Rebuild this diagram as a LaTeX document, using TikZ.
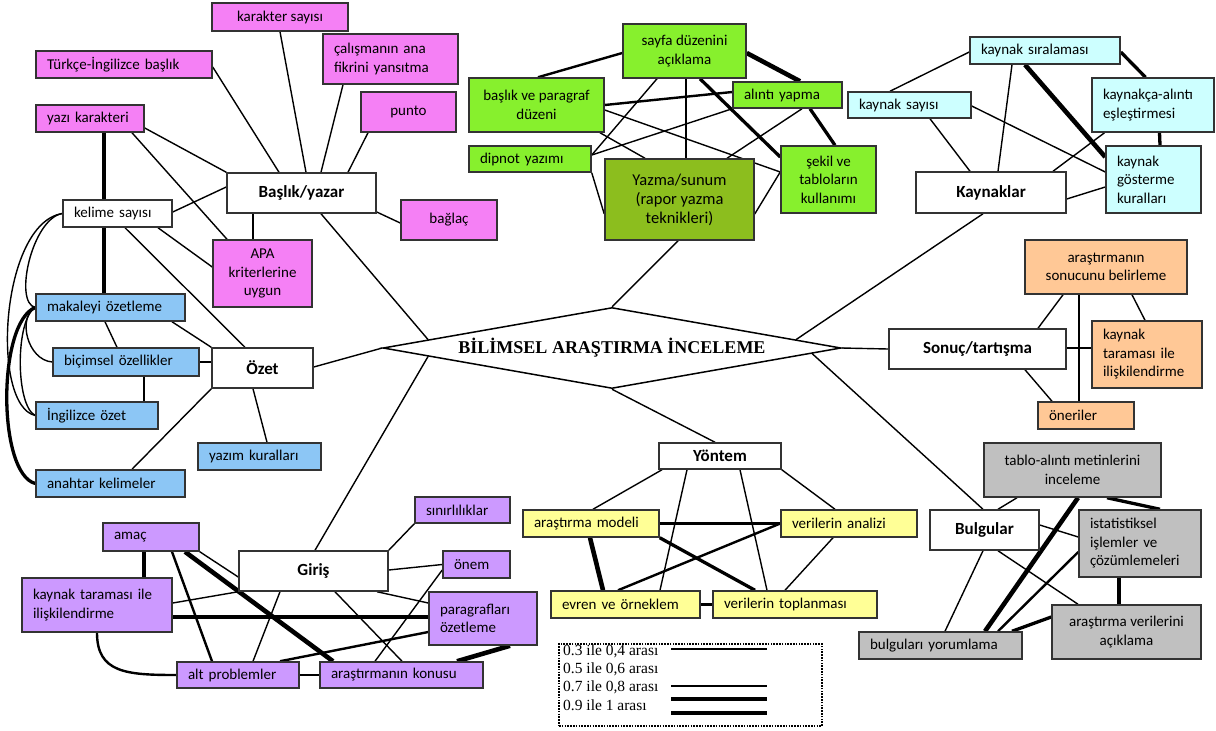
\documentclass[tikz,border=0pt]{standalone}
\usepackage{fontspec}
\setmainfont{Carlito}
\newfontfamily\tms{Liberation Serif}
\usetikzlibrary{shapes.geometric,calc,backgrounds}
\definecolor{cpink}{RGB}{245,128,245}
\definecolor{cgreen}{RGB}{135,240,45}
\definecolor{cdgreen}{RGB}{140,190,30}
\definecolor{ccyan}{RGB}{205,255,255}
\definecolor{cblue}{RGB}{140,198,245}
\definecolor{corange}{RGB}{255,200,150}
\definecolor{cyellow}{RGB}{255,255,150}
\definecolor{cgray}{RGB}{192,192,192}
\definecolor{cpurple}{RGB}{204,153,255}
\tikzset{
  box/.style={draw=black!80, line width=1.5pt, inner sep=0pt, font=\fontsize{15}{18.5}\selectfont},
  lft/.style={text width=\btw pt, align=left, inner xsep=11pt},
  ctr/.style={align=center},
  cat/.style={fill=white, font=\fontsize{17}{20}\selectfont\bfseries},
  fpink/.style={fill=cpink}, fgreen/.style={fill=cgreen}, fdgreen/.style={fill=cdgreen},
  fcyan/.style={fill=ccyan}, fblue/.style={fill=cblue}, forange/.style={fill=corange},
  fyellow/.style={fill=cyellow}, fgray/.style={fill=cgray}, fpurple/.style={fill=cpurple},
  w1/.style={line width=1.4pt}, w2/.style={line width=2.4pt},
  w3/.style={line width=3.3pt}, w4/.style={line width=4.6pt},
  lgt/.style={font=\tms\fontsize{15.5}{18}\selectfont, inner sep=0pt, anchor=west}
}
\newcommand\bx[7]{%
  \pgfmathsetmacro\bw{#4-#2}%
  \pgfmathsetmacro\bh{#5-#3}%
  \pgfmathsetmacro\btw{#4-#2-22}%
  \pgfmathsetmacro\bcx{(#2+#4)/2}%
  \pgfmathsetmacro\bcy{(#3+#5)/2}%
  \node[box,minimum width=\bw pt,minimum height=\bh pt,#6] (#1) at (\bcx,\bcy) {#7};}
\begin{document}
\begin{tikzpicture}[x=1pt,y=-1pt]
\useasboundingbox (0,0) rectangle (1216,731);
% ---- nodes
\node[draw, line width=1.5pt, shape=diamond, aspect=5.654, minimum width=458pt, minimum height=81pt, inner sep=0pt, fill=white, font=\tms\bfseries\fontsize{18}{20}\selectfont] (D) at (612,348) {BİLİMSEL ARAŞTIRMA İNCELEME};

\bx{kar}{212}{3}{348}{31}{fpink}{karakter sayısı}
\bx{tr}{36}{51}{212}{78}{fpink,lft}{Türkçe-İngilizce başlık}
\bx{cal}{323}{34}{458}{84}{fpink,lft}{çalışmanın ana\\fikrini yansıtma}
\bx{punto}{361}{92}{456}{132}{fpink}{punto}
\bx{yazi}{36}{105}{144}{132}{fpink,lft}{yazı karakteri}
\bx{bas}{227}{173}{376}{213}{cat}{Başlık/yazar}
\bx{kel}{63}{200}{172}{227}{fill=white,lft}{kelime sayısı}
\bx{bag}{401}{200}{497}{240}{fpink}{bağlaç}
\bx{apa}{213}{240}{312}{307}{fpink,ctr}{APA\\kriterlerine\\uygun}
\bx{mak}{36}{294}{185}{321}{fblue,lft}{makaleyi özetleme}
\bx{bic}{53}{348}{199}{376}{fblue,lft}{biçimsel özellikler}
\bx{ozet}{212}{348}{313}{388}{cat}{Özet}
\bx{ing}{36}{402}{158}{429}{fblue,lft}{İngilizce özet}
\bx{yaz}{198}{443}{321}{470}{fblue,lft}{yazım kuralları}
\bx{anh}{36}{470}{185}{497}{fblue,lft}{anahtar kelimeler}

\bx{sayfa}{623}{24}{746}{78}{fgreen,ctr}{sayfa düzenini\\açıklama}
\bx{bpd}{469}{78}{604}{132}{fgreen,ctr}{başlık ve paragraf\\düzeni}
\bx{ali}{733}{82}{842}{108}{fgreen,lft}{alıntı yapma}
\bx{dip}{469}{146}{591}{172}{fgreen,lft}{dipnot yazımı}
\bx{yzm}{605}{159}{754}{240}{fdgreen,ctr,font=\fontsize{16.5}{19}\selectfont}{Yazma/sunum\\(rapor yazma\\teknikleri)}
\bx{sek}{781}{146}{876}{213}{fgreen,ctr}{şekil ve\\tabloların\\kullanımı}

\bx{ksira}{970}{37}{1120}{64}{fcyan,lft}{kaynak sıralaması}
\bx{ksay}{848}{92}{971}{118}{fcyan,lft}{kaynak sayısı}
\bx{kali}{1092}{78}{1214}{132}{fcyan,lft}{kaynakça-alıntı\\eşleştirmesi}
\bx{kay}{916}{172}{1066}{213}{cat}{Kaynaklar}
\bx{kgos}{1106}{146}{1201}{213}{fcyan,lft}{kaynak\\gösterme\\kuralları}

\bx{asb}{1025}{240}{1187}{294}{forange,ctr}{araştırmanın\\sonucunu belirleme}
\bx{son}{889}{329}{1066}{369}{cat}{Sonuç/tartışma}
\bx{ktio}{1092}{321}{1202}{388}{forange,lft}{kaynak\\taraması ile\\ilişkilendirme}
\bx{one}{1038}{402}{1134}{429}{forange,lft}{öneriler}

\bx{tab}{984}{443}{1161}{497}{fgray,ctr}{tablo-alıntı metinlerini\\inceleme}
\bx{bul}{930}{510}{1039}{550}{cat}{Bulgular}
\bx{ist}{1079}{510}{1201}{577}{fgray,lft}{istatistiksel\\işlemler ve\\çözümlemeleri}
\bx{avr}{1052}{605}{1201}{659}{fgray,ctr}{araştırma verilerini\\açıklama}
\bx{byo}{859}{632}{1022}{659}{fgray,lft}{bulguları yorumlama}

\bx{yon}{659}{443}{781}{469}{cat}{Yöntem}
\bx{amod}{523}{510}{659}{537}{fyellow,lft}{araştırma modeli}
\bx{van}{781}{510}{917}{537}{fyellow,lft}{verilerin analizi}
\bx{evr}{551}{591}{700}{618}{fyellow,lft}{evren ve örneklem}
\bx{vtop}{713}{591}{877}{618}{fyellow,lft}{verilerin toplanması}

\bx{sin}{415}{497}{510}{523}{fpurple,lft}{sınırlılıklar}
\bx{amac}{103}{523}{199}{551}{fpurple,lft}{amaç}
\bx{gir}{239}{551}{388}{591}{cat}{Giriş}
\bx{onem}{443}{551}{510}{578}{fpurple,lft}{önem}
\bx{ktp}{22}{578}{172}{632}{fpurple,lft}{kaynak taraması ile\\ilişkilendirme}
\bx{par}{429}{592}{537}{645}{fpurple,lft}{paragrafları\\özetleme}
\bx{alt}{177}{662}{299}{688}{fpurple,lft}{alt problemler}
\bx{kon}{320}{662}{483}{688}{fpurple,lft}{araştırmanın konusu}

% ---- legend
\node[draw, line width=2pt, dash pattern=on 1.6pt off 1.2pt, minimum width=263pt, minimum height=82pt, inner sep=0pt] (leg) at (690.5,685) {};
\node[lgt] (l1) at (563,651) {0.3 ile 0,4 arası};
\node[lgt] (l2) at (563,669) {0.5 ile 0,6 arası};
\node[lgt] (l3) at (563,687) {0.7 ile 0,8 arası};
\node[lgt] (l4) at (563,705) {0.9 ile 1 arası};
\coordinate (a1) at (671,649); \coordinate (b1) at (767,649);
\coordinate (a2) at (671,686); \coordinate (b2) at (767,686);
\coordinate (a3) at (671,699); \coordinate (b3) at (767,699);
\coordinate (a4) at (671,713); \coordinate (b4) at (767,713);
\draw[w1] (a1) -- (b1);
\draw[w2] (a2) -- (b2);
\draw[w3] (a3) -- (b3);
\draw[w4] (a4) -- (b4);

% ---- connectors
\begin{pgfonlayer}{background}
\fill[white] (0,0) rectangle (1216,731);
% Baslik/yazar
\draw[w1] ([yshift=-2.5]tr.east) -- ([xshift=-22.5]bas.north);
\draw[w1] (kar.south) -- ([xshift=4.5]bas.north);
\draw[w1] ([xshift=-47.5]cal.south) -- ([xshift=19.5]bas.north);
\draw[w1] ([xshift=-40.5]punto.south) -- ([xshift=46.5]bas.north);
\draw[w1] ([yshift=-19]bas.east) -- ([yshift=-3]bag.west);
\draw[w1] ([yshift=-9.5]yazi.east) -- (bas.north west);
\draw[w1] ([xshift=42]yazi.south) -- ([xshift=-35.5]apa.north);
\draw[w4] ([xshift=14]yazi.south) -- ([xshift=-13.5]kel.north);
\draw[w1] ([yshift=1.5]kel.east) -- ([yshift=6]bas.west);
\draw[w1] ([xshift=40.5]kel.south) -- ([yshift=6.5]apa.west);
\draw[w1] ([xshift=7.5]kel.south) -- ([xshift=-17.5]ozet.north);
\draw[w1] ([xshift=-48.5]bas.south) -- ([xshift=-9.5]apa.north);
\draw[w1] ([xshift=19.5]bas.south) -- ($(D.west)!0.2!(D.north)$);
\draw[w4] ([xshift=-13.5]kel.south) -- ([xshift=-6.5]mak.north);
\draw[w1] (kel.west) .. controls +(-62,10) and +(-45,-10) .. (ing.west);
\draw[w1] (kel.west) .. controls +(-30,5) and +(-22,-5) .. (mak.west);
% Ozet
\draw[w1] (mak.west) .. controls +(-18,10) and +(-25,-2) .. (bic.west);
\draw[w1] (mak.west) .. controls +(-20,12) and +(-20,-10) .. (ing.west);
\draw[w3] (mak.west) .. controls +(-38,15) and +(-38,-10) .. (anh.west);
\draw[w1] ([xshift=61.5]mak.south) -- (ozet.north west);
\draw[w1] ([xshift=-5.5]mak.south) -- ([xshift=-9]bic.north);
\draw[w1] (bic.east) -- ([yshift=6]ozet.west);
\draw[w1] ([xshift=18]bic.south) -- ([xshift=47]ing.north);
\draw[w1] ([xshift=-9.5]ozet.south) -- ([xshift=7.5]yaz.north);
\draw[w1] (ozet.south west) -- ([xshift=21.5]anh.north);
\draw[w1] ([yshift=1]ozet.east) -- (D.west);
% Giris
\draw[w4] ([xshift=-7]amac.south) -- ([xshift=47]ktp.north);
\draw[w2] ([xshift=21]amac.south) -- ([xshift=-26]alt.north);
\draw[w4] ([xshift=34]amac.south) -- ([xshift=-68.5]kon.north);
\draw[w1] (amac.south east) -- ([yshift=-6]gir.west);
\draw[w1] ([yshift=2]ktp.east) -- (gir.south west);
\draw[w3] ([yshift=-12]ktp.east) -- ([yshift=1.5]par.west);
\draw[w2] (ktp.south) .. controls +(0,40) and +(-50,0) .. (alt.west);
\draw[w2] (alt.east) -- (kon.west);
\draw[w1] ([xshift=-33.5]gir.south) -- ([xshift=15]alt.north);
\draw[w1] ([xshift=21.5]gir.south) -- ([xshift=0.5]kon.north);
\draw[w1] (gir.north east) -- (sin.south west);
\draw[w1] ([yshift=1]gir.east) -- (onem.west);
\draw[w1] ([xshift=63.5]gir.south) -- ([yshift=15.5]par.west);
\draw[w1] ([yshift=-5.5]onem.west) -- ([xshift=-26.5]kon.north);
\draw[w2] ([yshift=-13.5]par.west) -- ([xshift=42]alt.north);
\draw[w4] ([xshift=27]par.south) -- ([xshift=55.5]kon.north);
\draw[w1] ([xshift=1.5]gir.north) -- ($(D.west)!0.2!(D.south)$);
% Yontem
\draw[w1] ([xshift=-5]yon.north) -- (D.south);
\draw[w1] ([xshift=-58]yon.south) -- ([xshift=2]amod.north);
\draw[w1] ([xshift=-33]yon.south) -- ([xshift=34.5]evr.north);
\draw[w1] ([xshift=20]yon.south) -- ([xshift=-28]vtop.north);
\draw[w1] (yon.south east) -- ([xshift=-14]van.north);
\draw[w2] (amod.east) -- (van.west);
\draw[w4] ([xshift=-1]amod.south) -- ([xshift=-22.5]evr.north);
\draw[w3] (amod.south east) -- ([xshift=-40]vtop.north);
\draw[w2] (van.west) -- ([xshift=-7.5]evr.north);
\draw[w1] ([xshift=-16]van.south) -- ([xshift=-10]vtop.north);
\draw[w3] (evr.east) -- (vtop.west);
% Bulgular
\draw[w1] ([xshift=-1.5]bul.north) -- ($(D.east)!0.13!(D.south)$);
\draw[w1] ([xshift=13.5]bul.north) -- ([xshift=-55.5]tab.south);
\draw[w1] ([yshift=5]bul.east) -- ([yshift=6.5]ist.west);
\draw[w1] ([xshift=13.5]bul.south) -- ([xshift=-48.5]avr.north);
\draw[w1] ([xshift=-1.5]bul.south) -- ([xshift=4.5]byo.north);
\draw[w3] ([xshift=34.5]tab.south) -- ([xshift=20]ist.north);
\draw[w4] ([xshift=5.5]tab.south) -- ([xshift=44.5]byo.north);
\draw[w2] ([yshift=-8.5]ist.west) -- ([xshift=57.5]byo.north);
\draw[w3] ([xshift=-21]ist.south) -- ([xshift=-7.5]avr.north);
\draw[w3] ([yshift=15]avr.west) -- ([xshift=71.5]byo.north);
% Sonuc
\draw[w1] (son.west) -- (D.east);
\draw[w1] ([xshift=-43]asb.south) -- ([xshift=60.5]son.north);
\draw[w1] ([xshift=-27]asb.south) -- ([xshift=-7]one.north);
\draw[w1] ([xshift=26]asb.south) -- ([xshift=-2]ktio.north);
\draw[w1] ([yshift=1]son.east) -- ([yshift=6.5]ktio.west);
\draw[w1] ([xshift=47.5]son.south) -- ([xshift=-34]one.north);
% Kaynaklar
\draw[w1] ([xshift=-8]kay.south) -- ($(D.east)!0.2!(D.north)$);
\draw[w1] ([yshift=-1.5]ksira.west) -- ([xshift=-19.5]ksay.north);
\draw[w1] ([xshift=-33]ksira.south) -- ([xshift=7]kay.north);
\draw[w4] ([xshift=-20]ksira.south) -- ([yshift=22.5]kgos.west);
\draw[w3] ([yshift=-1.5]ksira.east) -- ([xshift=-7.5]kali.north);
\draw[w1] ([xshift=20.5]ksay.south) -- ([xshift=-21]kay.north);
\draw[w1] ([yshift=-1]ksay.east) -- ([yshift=7.5]kgos.west);
\draw[w3] ([xshift=6.5]kali.south) -- ([xshift=6.5]kgos.north);
\draw[w1] ([xshift=-48.5]kali.south) -- ([xshift=62]kay.north);
\draw[w1] ([yshift=-6.5]kay.east) -- ([yshift=-7.5]kgos.west);
% Yazma
\draw[w1] ([xshift=-1.5]yzm.south) -- (D.north);
\draw[w2] ([yshift=-2]sayfa.west) -- ([xshift=1.5]bpd.north);
\draw[w4] ([yshift=-2]sayfa.east) -- ([xshift=12.5]ali.north);
\draw[w1] ([xshift=-27.5]sayfa.south) -- ([yshift=4]dip.east);
\draw[w2] ([xshift=1.5]sayfa.south) -- ([xshift=6.5]yzm.north);
\draw[w3] ([xshift=15.5]sayfa.south) -- ([yshift=22.5]sek.west);
\draw[w2] (bpd.east) -- ([yshift=3]ali.west);
\draw[w1] ([xshift=63.5]bpd.south) -- ([xshift=-34.5]yzm.north);
\draw[w1] ([yshift=-5]bpd.east) -- ([yshift=7.5]sek.west);
\draw[w1] ([yshift=4]dip.east) -- (ali.south west);
\draw[w1] (dip.south east) -- ([yshift=-14.5]yzm.west);
\draw[w1] ([xshift=14.5]ali.south) -- ([xshift=47.5]yzm.north);
\draw[w3] ([xshift=22.5]ali.south) -- ([xshift=6.5]sek.north);
\draw[w1] ([yshift=7.5]sek.west) -- ([yshift=-14.5]yzm.east);
\end{pgfonlayer}
\end{tikzpicture}
\end{document}
